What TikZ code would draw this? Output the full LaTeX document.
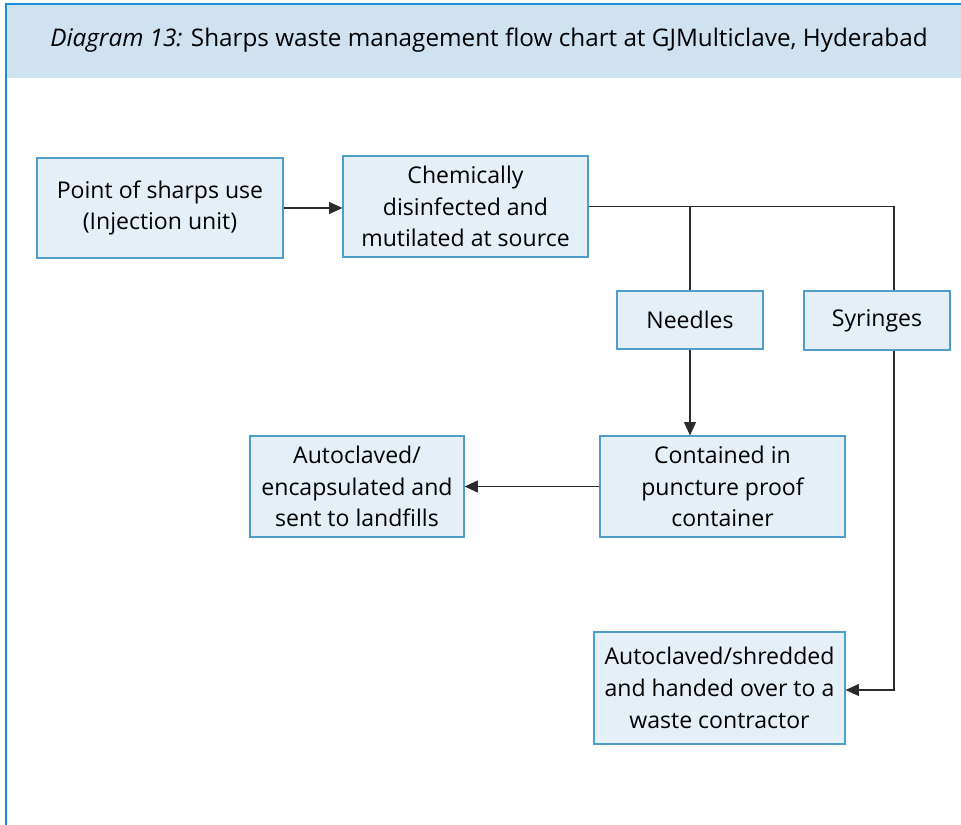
\documentclass[tikz,border=0pt]{standalone}
\usepackage{fontspec}
\setmainfont{Open Sans}
\usetikzlibrary{arrows.meta}
\definecolor{headfill}{HTML}{CFE2EF}
\definecolor{frameblue}{HTML}{1B8FD6}
\definecolor{boxfill}{HTML}{E4EFF7}
\definecolor{boxline}{HTML}{4F9DCB}
\definecolor{wire}{HTML}{2B2B2B}
\begin{document}
\begin{tikzpicture}[x=0.75pt,y=-0.75pt,
  stepbox/.style={draw=boxline,fill=boxfill,line width=0.9pt,align=center,
    inner sep=0pt,font=\fontsize{17.3}{23.8}\selectfont},
  flow/.style={draw=wire,line width=0.85pt,-{Triangle[length=10pt,width=9pt]}},
  link/.style={draw=wire,line width=0.85pt}]
\useasboundingbox (0,0) rectangle (961,825);
% header band and frame
\fill[headfill] (7,5) rectangle (961,78);
\draw[frameblue,line width=1.5pt] (6,825) -- (6,4) -- (961,4);
\node[anchor=center,font=\fontsize{18.2}{22}\selectfont] (title) at (489,40)
  {\textit{Diagram 13:} Sharps waste management flow chart at GJMulticlave, Hyderabad};
% process boxes
\node[stepbox,minimum width=184.5pt,minimum height=75pt] (use) at (160,208)
  {Point of sharps use\\(Injection unit)};
\node[stepbox,minimum width=183.75pt,minimum height=75.75pt] (chem) at (465.5,206.5)
  {Chemically\\disinfected and\\mutilated at source};
\node[stepbox,minimum width=109.5pt,minimum height=43.5pt] (needles) at (690,320)
  {Needles};
\node[stepbox,minimum width=109.5pt,minimum height=44.25pt] (syringes) at (877,320.5)
  {Syringes};
\node[stepbox,minimum width=183.75pt,minimum height=75.75pt] (contained) at (722.5,486.5)
  {Contained in\\puncture proof\\container};
\node[stepbox,minimum width=160.5pt,minimum height=75.75pt] (landfill) at (357,486.5)
  {Autoclaved/\\encapsulated and\\sent to landfills};
\node[stepbox,minimum width=188.25pt,minimum height=84pt] (shred) at (719.5,688)
  {Autoclaved/shredded\\and handed over to a\\waste contractor};
% connector guide coordinates
\coordinate (syrx) at (894,0);
\coordinate (shredy) at (0,690);
% connectors
\draw[flow] (use.east) -- (chem.west |- use.east);
\draw[link] (chem.east) -| (syringes.north -| syrx);
\draw[link] (chem.east -| needles.north) -- (needles.north);
\draw[flow] (needles.south) -- (contained.north -| needles.south);
\draw[flow] (contained.west) -- (landfill.east);
\draw[flow] (syringes.south -| syrx) -- (syrx |- shredy) -- (shred.east |- shredy);
\end{tikzpicture}
\end{document}
